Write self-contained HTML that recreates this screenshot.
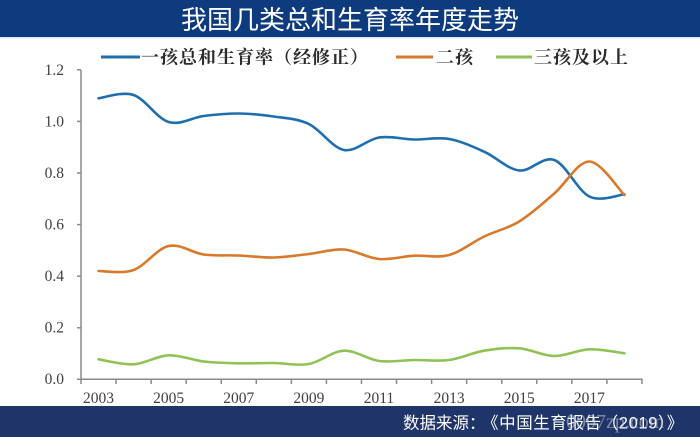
<!DOCTYPE html>
<html>
<head>
<meta charset="utf-8">
<style>
html,body{margin:0;padding:0;background:#fff;}
body{width:700px;height:437px;overflow:hidden;position:relative;}
svg{display:block;}
</style>
</head>
<body>
<svg width="700" height="437" viewBox="0 0 700 437" xmlns="http://www.w3.org/2000/svg">
  <rect x="0" y="0" width="700" height="437" fill="#ffffff"/>
  <!-- title bar -->
  <rect x="0" y="0" width="700" height="37" fill="#0e3b7e"/>
  <rect x="0" y="37" width="700" height="1.5" fill="#dfe6f0"/>
  <text x="350" y="29" text-anchor="middle" font-family="'Liberation Sans','Noto Sans CJK SC',sans-serif" font-size="26" fill="#ffffff">我国几类总和生育率年度走势</text>

  <!-- legend -->
  <g font-family="'Liberation Serif','Noto Serif CJK SC',serif" font-size="18" font-weight="bold" fill="#2b2b2b" letter-spacing="1">
    <line x1="101" y1="57" x2="140" y2="57" stroke="#1f6eae" stroke-width="3"/>
    <text x="141" y="63.5">一孩总和生育率（经修正）</text>
    <line x1="396" y1="57" x2="433" y2="57" stroke="#d9792c" stroke-width="3"/>
    <text x="436" y="63.5">二孩</text>
    <line x1="496" y1="57" x2="532" y2="57" stroke="#8fc356" stroke-width="3"/>
    <text x="534" y="63.5">三孩及以上</text>
  </g>

  <!-- axes -->
  <g stroke="#8a8a8a" stroke-width="1.5" fill="none">
    <line x1="81" y1="70" x2="81" y2="379.5"/>
    <line x1="80.5" y1="379.3" x2="642.5" y2="379.3"/>
    <line x1="77" y1="69.8" x2="81" y2="69.8"/>
    <line x1="77" y1="121.4" x2="81" y2="121.4"/>
    <line x1="77" y1="173" x2="81" y2="173"/>
    <line x1="77" y1="224.6" x2="81" y2="224.6"/>
    <line x1="77" y1="276.2" x2="81" y2="276.2"/>
    <line x1="77" y1="327.8" x2="81" y2="327.8"/>
    <line x1="77" y1="379.3" x2="81" y2="379.3"/>
    <line x1="81" y1="379" x2="81" y2="384"/>
    <line x1="116.06" y1="379" x2="116.06" y2="384"/>
    <line x1="151.12" y1="379" x2="151.12" y2="384"/>
    <line x1="186.18" y1="379" x2="186.18" y2="384"/>
    <line x1="221.24" y1="379" x2="221.24" y2="384"/>
    <line x1="256.3" y1="379" x2="256.3" y2="384"/>
    <line x1="291.36" y1="379" x2="291.36" y2="384"/>
    <line x1="326.42" y1="379" x2="326.42" y2="384"/>
    <line x1="361.48" y1="379" x2="361.48" y2="384"/>
    <line x1="396.54" y1="379" x2="396.54" y2="384"/>
    <line x1="431.6" y1="379" x2="431.6" y2="384"/>
    <line x1="466.66" y1="379" x2="466.66" y2="384"/>
    <line x1="501.72" y1="379" x2="501.72" y2="384"/>
    <line x1="536.78" y1="379" x2="536.78" y2="384"/>
    <line x1="571.84" y1="379" x2="571.84" y2="384"/>
    <line x1="606.9" y1="379" x2="606.9" y2="384"/>
    <line x1="641.96" y1="379" x2="641.96" y2="384"/>
  </g>

  <!-- y labels -->
  <g font-family="'Liberation Serif',serif" font-size="15.5" fill="#404040" text-anchor="end">
    <text x="64" y="75">1.2</text>
    <text x="64" y="126.5">1.0</text>
    <text x="64" y="178">0.8</text>
    <text x="64" y="229.5">0.6</text>
    <text x="64" y="281">0.4</text>
    <text x="64" y="332.5">0.2</text>
    <text x="64" y="384">0.0</text>
  </g>
  <!-- x labels -->
  <g font-family="'Liberation Serif',serif" font-size="15.5" fill="#404040" text-anchor="middle">
    <text x="98.5" y="403">2003</text>
    <text x="168.62" y="403">2005</text>
    <text x="238.74" y="403">2007</text>
    <text x="308.86" y="403">2009</text>
    <text x="378.98" y="403">2011</text>
    <text x="449.1" y="403">2013</text>
    <text x="519.22" y="403">2015</text>
    <text x="589.34" y="403">2017</text>
  </g>

  <!-- series -->
  <g fill="none" stroke-width="2.6" stroke-linecap="round" stroke-linejoin="round">
    <path stroke="#1f6eae" d="M98.5,98.3 C104.34,97.75 121.87,91.05 133.56,95 S156.93,118.5 168.62,122 S191.99,117.42 203.68,116 S227.05,113.42 238.74,113.5 S262.11,114.75 273.8,116.5 S297.17,118.42 308.86,124 S332.23,147.75 343.92,150 S367.29,139.25 378.98,137.5 S402.35,139.25 414.04,139.5 S437.41,136.97 449.1,139 S472.47,146.45 484.16,151.7 S507.53,169.12 519.22,170.5 S542.59,155.67 554.28,160 S577.65,190.78 589.34,196.5 S618.56,194.67 624.4,194.3"/>
    <path stroke="#d9792c" d="M98.5,271 C104.34,270.83 121.87,274.17 133.56,270 S156.93,248.58 168.62,246 S191.99,252.92 203.68,254.5 S227.05,255 238.74,255.5 S262.11,257.75 273.8,257.5 S297.17,255.33 308.86,254 S332.23,248.67 343.92,249.5 S367.29,257.97 378.98,259 S402.35,256.37 414.04,255.7 S437.41,258.2 449.1,255 S472.47,242.08 484.16,236.5 S507.53,228.67 519.22,221.5 S542.59,203.5 554.28,193.5 S577.65,161.25 589.34,161.5 S618.56,189.42 624.4,195"/>
    <path stroke="#8fc356" d="M98.5,359.3 C104.34,360.13 121.87,364.97 133.56,364.3 S156.93,355.77 168.62,355.3 S191.99,360.17 203.68,361.5 S227.05,363.05 238.74,363.3 S262.11,362.88 273.8,363 S297.17,366.05 308.86,364 S332.23,351.2 343.92,350.7 S367.29,359.45 378.98,361 S402.35,360.17 414.04,360 S437.41,361.55 449.1,360 S472.47,352.65 484.16,350.7 S507.53,347.42 519.22,348.3 S542.59,355.83 554.28,356 S577.65,349.75 589.34,349.3 S618.56,352.63 624.4,353.3"/>
  </g>

  <!-- footer -->
  <rect x="0" y="406" width="700" height="31" fill="#1f3468"/>
  <text x="403" y="428.5" font-family="'Liberation Sans','Noto Sans CJK SC',sans-serif" font-size="16.5" fill="#ffffff">数据来源：</text>
  <text x="482" y="428.5" font-family="'Liberation Sans','Noto Sans CJK SC',sans-serif" font-size="16.5" fill="#ffffff" letter-spacing="0.6">《中国生育报告（2019）》</text>
  <text x="566" y="428" font-family="'Liberation Serif',serif" font-size="20" fill="#c8ccd6" fill-opacity="0.55">0007zp.com</text>
</svg>
</body>
</html>
